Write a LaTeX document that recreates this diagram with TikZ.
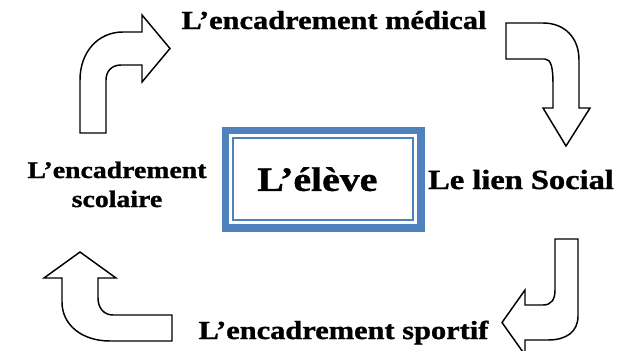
\documentclass[tikz,border=0pt]{standalone}
\usepackage{fontspec}
\setmainfont{Liberation Serif}[FakeStretch=1.17,BoldFeatures={FakeBold=1.2}]
\usetikzlibrary{positioning}
\definecolor{boxblue}{HTML}{4F81BD}

\begin{document}
\begin{tikzpicture}[x=0.75pt,y=-0.75pt,
label/.style={
% the texts round the box
inner sep=0pt,
anchor=base,
font=\fontsize{19.5}{21.75}\selectfont\bfseries,
align=center
},
pupil/.style={
rectangle,
draw=boxblue,
line width=5.6pt,
outer sep=0pt,
minimum width=146.8pt,
minimum height=73pt,
inner sep=0pt,
font=\fontsize{25.5}{28}\selectfont\bfseries
},
bigarrow/.style={
draw=black,
fill=white,
line width=1.1pt,
line join=miter
}
]
\useasboundingbox (0,0) rectangle (627,350);
\clip (0,0) rectangle (627,350);

% centre box
\node (eleve) [pupil] at (323.3,179.2) {L’élève\hspace*{9pt}};
\draw[boxblue,line width=1.5pt] ([xshift=5.85pt,yshift=-5.85pt]eleve.north west) rectangle ([xshift=-5.85pt,yshift=5.85pt]eleve.south east);

% texts
\node (medical) [label] at (334,29) {L’encadrement médical};
\node (social) [label,font=\fontsize{20.8}{22}\selectfont\bfseries] at (521,189) {Le lien Social};
\node (sportif) [label] at (343.5,339) {L’encadrement sportif};
\node (scolaire) [label,font=\fontsize{17.8}{21.75}\selectfont\bfseries] at (117,207) {L’encadrement\\scolaire};

% bent arrows
\draw[bigarrow] (80,133) -- (80,80) .. controls (80,52) and (98,32) .. (123,32) -- (142,32) -- (142,15) -- (170,48.5) -- (142,82) -- (142,65) -- (121,65) .. controls (112,65) and (106,71) .. (106,80) -- (106,133) -- cycle;
\draw[bigarrow] (506,23) -- (543,23) .. controls (565,23) and (579,38) .. (579,60) -- (579,108) -- (590,108) -- (566,146) -- (543,108) -- (553,108) -- (553,83) .. controls (553,68) and (551,59) .. (545,59) -- (506,59) -- cycle;
\draw[bigarrow] (555,239) -- (578,239) -- (578,316) .. controls (578,332) and (566,340) .. (548,340) -- (525,340) -- (525,355) -- (502,322.5) -- (525,290) -- (525,305) -- (543,305) .. controls (551,305) and (555,300) .. (555,290) -- cycle;
\draw[bigarrow] (62,278) -- (62,302) .. controls (62,325) and (82,341) .. (110,341) -- (172,341) -- (172,315) -- (113,315) .. controls (104,315) and (98,308) .. (98,298) -- (98,278) -- (116,278) -- (80,252) -- (44,278) -- cycle;
\end{tikzpicture}
\end{document}
